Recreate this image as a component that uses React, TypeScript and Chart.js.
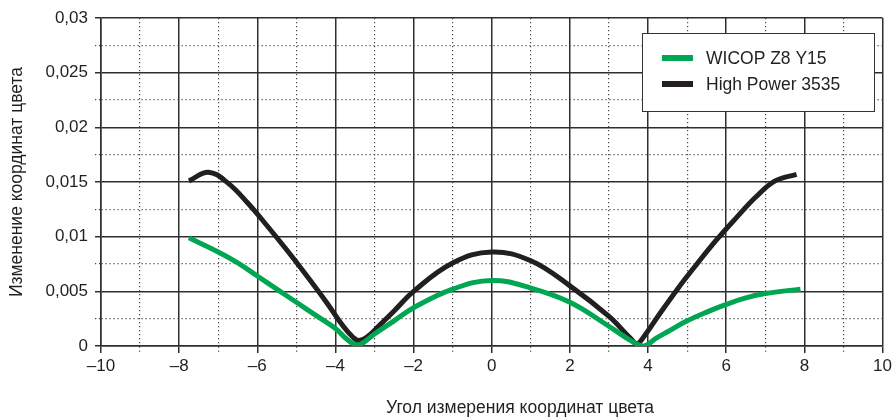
import React, { useEffect, useRef } from "react";
import { Chart, registerables } from "chart.js";

Chart.register(...registerables);

// ---- Data ----
const hpAngles = [-7.75, -7.25, -6.75, -6.25, -5.75, -5.25, -4.75, -4.25, -3.8, -3.55, -3.4, -3.2, -2.9, -2.5, -2.0, -1.0, 0, 1.0, 2.0, 3.0, 3.55, 3.72, 3.9, 4.25, 4.75, 5.25, 5.75, 6.25, 6.75, 7.25, 7.8];
const hpValues = [0.0151, 0.0159, 0.0149, 0.0131, 0.0110, 0.0088, 0.0065, 0.0041, 0.0018, 0.0008, 0.0005, 0.0008, 0.0018, 0.0032, 0.0050, 0.0076, 0.0086, 0.0078, 0.0055, 0.0027, 0.0007, 0.0002, 0.0009, 0.0027, 0.0052, 0.0075, 0.0097, 0.0117, 0.0136, 0.0151, 0.0157];

const wicopAngles = [-7.75, -7.0, -6.5, -6.0, -5.5, -5.0, -4.5, -4.0, -3.7, -3.45, -3.25, -3.0, -2.5, -2.0, -1.0, 0, 1.0, 2.0, 3.0, 3.6, 3.9, 4.2, 4.5, 5.0, 5.5, 6.0, 6.5, 7.0, 7.9];
const wicopValues = [0.0099, 0.0086, 0.0076, 0.0064, 0.0052, 0.0040, 0.0028, 0.0016, 0.0006, 0.0001, 0.0004, 0.0011, 0.0023, 0.0035, 0.0052, 0.0060, 0.0053, 0.0040, 0.0018, 0.0004, 0.0000, 0.0007, 0.0013, 0.0023, 0.0031, 0.0038, 0.0044, 0.0048, 0.0052];

const seriesLabels = ["WICOP Z8 Y15", "High Power 3535"];
const xTitle = "Угол измерения координат цвета";
const yTitle = "Изменение координат цвета";
const xMin = -10, xMax = 10, xStep = 1;
const yMin = 0, yMax = 0.03, yStep = 0.0025;

const GREEN = "#00a651";
const BLACK = "#231f20";
const FONT = "'Liberation Sans', Arial, Helvetica, sans-serif";
const MAJOR = "#2e2e2e";
const MINOR = "#4a4a4a";
const DOT = [1.2, 2.8];

const isMajorX = (v: number) => Math.abs(Math.round(v)) % 2 === 0;
const isMajorY = (v: number) => Math.round(v / yStep) % 2 === 0;

const fmtX = (v: number) => {
  const r = Math.round(v);
  if (r < 0) return "\u2013" + Math.abs(r);
  return String(r);
};
const fmtY = (v: number) => String(parseFloat(v.toFixed(4))).replace(".", ",");

const overlayPlugin = {
  id: "overlay",
  afterDraw(chart: any) {
    const { ctx, chartArea } = chart;
    ctx.save();
    // axis titles
    ctx.fillStyle = BLACK;
    ctx.font = `17.5px ${FONT}`;
    ctx.textAlign = "center";
    ctx.textBaseline = "middle";
    ctx.fillText(xTitle, chartArea.left + 419, 408);
    ctx.save();
    ctx.translate(17, (chartArea.top + chartArea.bottom) / 2);
    ctx.rotate(-Math.PI / 2);
    ctx.fillText(yTitle, 0, 0);
    ctx.restore();

    // legend box
    const bx = 642, by = 33, bw = 232, bh = 78;
    ctx.fillStyle = "#ffffff";
    ctx.fillRect(bx, by, bw, bh);
    ctx.strokeStyle = "#333333";
    ctx.lineWidth = 1;
    ctx.strokeRect(bx + 0.5, by + 0.5, bw, bh);
    const rows = [58, 84];
    chart.data.datasets.forEach((ds: any, i: number) => {
      const y = rows[i];
      ctx.strokeStyle = ds.borderColor;
      ctx.lineWidth = 6;
      ctx.beginPath();
      ctx.moveTo(662, y);
      ctx.lineTo(693, y);
      ctx.stroke();
      ctx.fillStyle = BLACK;
      ctx.font = `17.5px ${FONT}`;
      ctx.textAlign = "left";
      ctx.textBaseline = "middle";
      ctx.fillText(ds.label, 706, y + 1);
    });
    ctx.restore();
  },
};

export default function App() {
  const ref = useRef<HTMLCanvasElement | null>(null);

  useEffect(() => {
    document.body.style.margin = "0";
    const canvas = ref.current;
    if (!canvas) return;
    const chart = new Chart(canvas, {
      type: "line",
      data: {
        datasets: [
          {
            label: seriesLabels[0],
            data: wicopAngles.map((x, i) => ({ x, y: wicopValues[i] })),
            borderColor: GREEN,
            backgroundColor: GREEN,
            borderWidth: 5,
            pointRadius: 0,
            tension: 0.4,
            fill: false,
          },
          {
            label: seriesLabels[1],
            data: hpAngles.map((x, i) => ({ x, y: hpValues[i] })),
            borderColor: BLACK,
            backgroundColor: BLACK,
            borderWidth: 5,
            pointRadius: 0,
            tension: 0.4,
            fill: false,
          },
        ],
      },
      options: {
        responsive: false,
        animation: false,
        layout: { padding: { top: 18, right: 12, left: 0, bottom: 0 } },
        plugins: { legend: { display: false }, tooltip: { enabled: false } },
        scales: {
          x: {
            type: "linear",
            min: xMin,
            max: xMax,
            afterFit: (s: any) => { s.height = 73; },
            ticks: {
              stepSize: xStep,
              autoSkip: false,
              maxRotation: 0,
              padding: 3,
              color: BLACK,
              font: { family: FONT, size: 17 },
              callback: (v: any) => (isMajorX(Number(v)) ? fmtX(Number(v)) : ""),
            },
            grid: {
              color: (c: any) => (c.tick && isMajorX(c.tick.value) ? MAJOR : MINOR),
              lineWidth: (c: any) => (c.tick && isMajorX(c.tick.value) ? 1.5 : 1.2),
              tickLength: 7,
              tickColor: (c: any) => (c.tick && isMajorX(c.tick.value) ? MAJOR : MINOR),
              tickBorderDash: (c: any) => (c.tick && isMajorX(c.tick.value) ? [] : DOT),
            },
            border: {
              display: true,
              color: MAJOR,
              width: 1.5,
              dash: (c: any) => (c.tick && !isMajorX(c.tick.value) ? DOT : []),
            },
          },
          y: {
            type: "linear",
            min: yMin,
            max: yMax,
            afterFit: (s: any) => { s.width = 101; },
            ticks: {
              stepSize: yStep,
              autoSkip: false,
              padding: 7,
              color: BLACK,
              font: { family: FONT, size: 17 },
              callback: (v: any) => (isMajorY(Number(v)) ? fmtY(Number(v)) : ""),
            },
            grid: {
              color: (c: any) => (c.tick && isMajorY(c.tick.value) ? MAJOR : MINOR),
              lineWidth: (c: any) => (c.tick && isMajorY(c.tick.value) ? 1.5 : 1.2),
              tickLength: 6,
              tickColor: (c: any) => (c.tick && isMajorY(c.tick.value) ? MAJOR : MINOR),
              tickBorderDash: (c: any) => (c.tick && isMajorY(c.tick.value) ? [] : DOT),
            },
            border: {
              display: true,
              color: MAJOR,
              width: 1.5,
              dash: (c: any) => (c.tick && !isMajorY(c.tick.value) ? DOT : []),
            },
          },
        },
      },
      plugins: [overlayPlugin],
    } as any);
    return () => chart.destroy();
  }, []);

  return (
    <div style={{ width: 895, height: 419 }}>
      <canvas ref={ref} width={895} height={419} style={{ display: "block" }} />
    </div>
  );
}
